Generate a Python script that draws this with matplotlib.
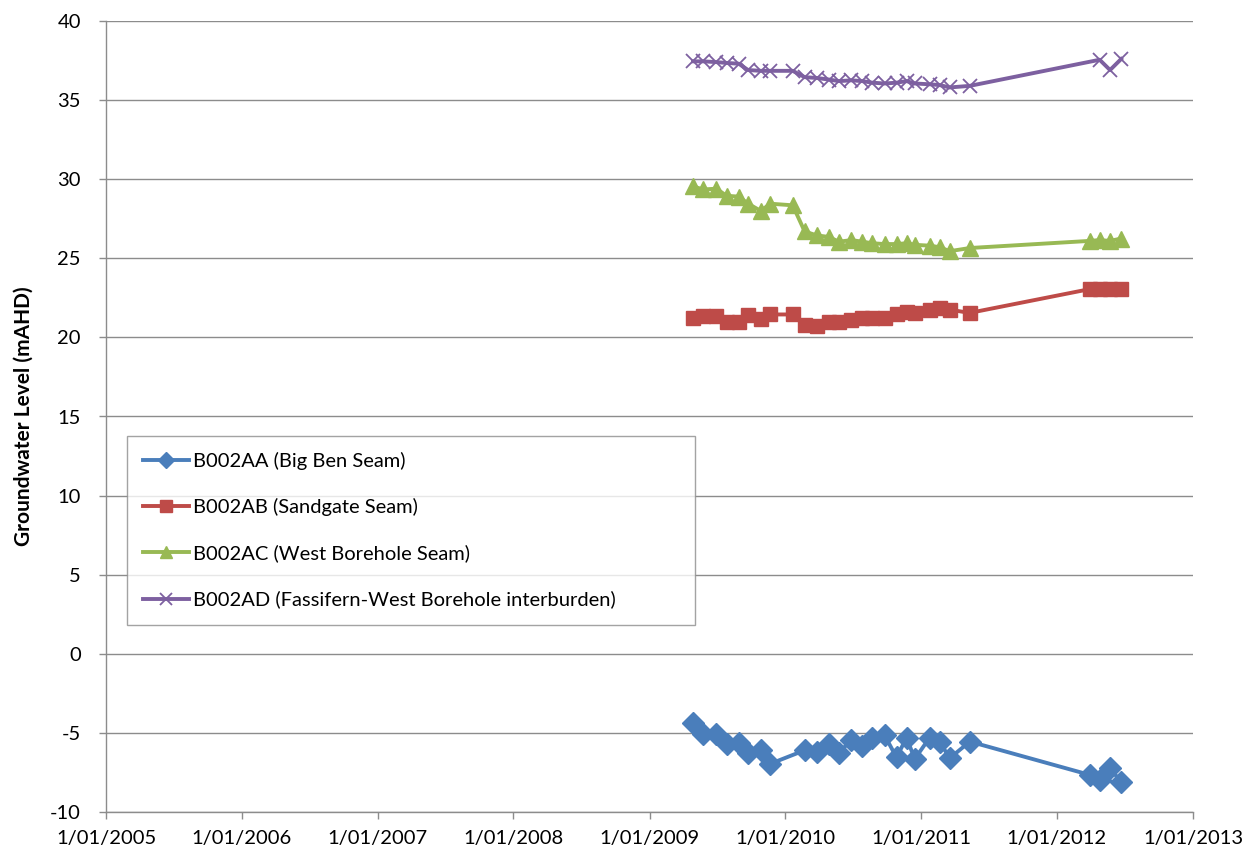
import matplotlib
matplotlib.use("Agg")
import matplotlib.pyplot as plt
import pandas as pd

# ---- data ----
dates_aa = ["2009-04-28","2009-05-25","2009-06-30","2009-07-27","2009-08-29","2009-09-23",
            "2009-10-27","2009-11-22","2010-02-22","2010-03-26","2010-04-28","2010-05-25",
            "2010-06-28","2010-07-27","2010-08-23","2010-09-25","2010-10-27","2010-11-23",
            "2010-12-15","2011-01-24","2011-02-20","2011-03-19","2011-05-12","2012-03-29",
            "2012-04-25","2012-05-23","2012-06-22"]
level_aa = [-4.35, -5.1, -5.05, -5.7, -5.65, -6.25, -6.1, -6.95, -6.1, -6.2, -5.7, -6.25,
            -5.45, -5.85, -5.35, -5.15, -6.55, -5.3, -6.65, -5.3, -5.55, -6.6, -5.55,
            -7.65, -8.0, -7.25, -8.1]

dates_ab = ["2009-04-28","2009-05-25","2009-06-30","2009-07-27","2009-08-29","2009-09-23",
            "2009-10-27","2009-11-22","2010-01-21","2010-02-22","2010-03-26","2010-04-28",
            "2010-05-25","2010-06-28","2010-07-27","2010-08-23","2010-09-25","2010-10-27",
            "2010-11-23","2010-12-15","2011-01-24","2011-02-20","2011-03-19","2011-05-12",
            "2012-03-29","2012-04-25","2012-05-23","2012-06-22"]
level_ab = [21.2, 21.35, 21.35, 20.95, 20.95, 21.4, 21.15, 21.45, 21.45, 20.8, 20.75, 20.95,
            20.95, 21.1, 21.2, 21.2, 21.2, 21.5, 21.6, 21.55, 21.75, 21.85, 21.75, 21.55,
            23.05, 23.05, 23.05, 23.05]

dates_ac = list(dates_ab)
level_ac = [29.55, 29.35, 29.4, 28.95, 28.9, 28.45, 28.0, 28.45, 28.35, 26.7, 26.45, 26.35,
            26.05, 26.15, 26.05, 25.95, 25.9, 25.9, 25.95, 25.85, 25.8, 25.7, 25.45, 25.65,
            26.1, 26.15, 26.1, 26.25]

dates_ad = ["2009-04-28","2009-05-25","2009-06-30","2009-07-27","2009-08-29","2009-09-23",
            "2009-10-27","2009-11-22","2010-01-21","2010-02-22","2010-03-26","2010-04-28",
            "2010-05-25","2010-06-28","2010-07-27","2010-08-23","2010-09-25","2010-10-27",
            "2010-11-23","2010-12-15","2011-01-24","2011-02-20","2011-03-19","2011-05-12",
            "2012-04-25","2012-05-23","2012-06-22"]
level_ad = [37.45, 37.45, 37.4, 37.35, 37.3, 36.9, 36.85, 36.85, 36.85, 36.45, 36.4, 36.3,
            36.2, 36.25, 36.2, 36.1, 36.05, 36.1, 36.2, 36.05, 36.0, 35.95, 35.8, 35.9,
            37.55, 36.9, 37.6]

labels = ["B002AA (Big Ben Seam)", "B002AB (Sandgate Seam)",
          "B002AC (West Borehole Seam)", "B002AD (Fassifern-West Borehole interburden)"]
x_ticks = ["2005-01-01","2006-01-01","2007-01-01","2008-01-01","2009-01-01",
           "2010-01-01","2011-01-01","2012-01-01","2013-01-01"]
y_ticks = [-10, -5, 0, 5, 10, 15, 20, 25, 30, 35, 40]

plt.rcParams['font.family'] = ['Lato', 'DejaVu Sans']

W, H = 1249, 856
fig = plt.figure(figsize=(W/100, H/100), dpi=100)
ax = fig.add_axes([106/W, 1-812/H, (1193-106)/W, (812-21)/H])

series = [
    (dates_aa, level_aa, "#4A7EBB", "D", 11, 1.0),
    (dates_ab, level_ab, "#BE4B48", "s", 10.5, 1.0),
    (dates_ac, level_ac, "#98B954", "^", 11, 1.0),
    (dates_ad, level_ad, "#7D60A0", "x", 10, 1.3),
]
for (d, v, c, m, ms, mew), lab in zip(series, labels):
    ax.plot(pd.to_datetime(d), v, color=c, lw=2.8, marker=m, ms=ms,
            markeredgewidth=mew, markerfacecolor=c, markeredgecolor=c, label=lab)

xt = pd.to_datetime(x_ticks)
ax.set_xlim(xt[0], xt[-1])
ax.set_xticks(xt)
ax.set_xticklabels([f"{t.day}/{t.month:02d}/{t.year}" for t in xt], fontsize=14.5)
ax.set_ylim(-10, 40)
ax.set_yticks(y_ticks)
ax.set_yticklabels([str(v) for v in y_ticks], fontsize=14.5)
ax.yaxis.grid(True, color="#8c8c8c", lw=1.0)
ax.set_axisbelow(True)
for s in ["top", "right"]:
    ax.spines[s].set_visible(False)
for s in ["left", "bottom"]:
    ax.spines[s].set_color("#8c8c8c")
    ax.spines[s].set_linewidth(1.0)
ax.tick_params(axis="both", color="#8c8c8c", length=5, width=1.0)
ax.tick_params(axis="y", pad=13)
ax.tick_params(axis="x", pad=8)
ax.set_ylabel("Groundwater Level (mAHD)", fontsize=15, fontweight="bold", labelpad=12)

# legend box in axes fraction: x 127..695, y 436..629 (pixels)
axw, axh = 1193-106, 812-21
bx0 = (127-106)/axw
by1 = (812-436)/axh
bw = (695-127)/axw
bh = (629-436)/axh
leg = ax.legend(loc="upper left", bbox_to_anchor=(bx0, by1-bh, bw, bh), mode="expand",
                fontsize=14.5, frameon=True, fancybox=False, borderpad=0.8,
                labelspacing=1.4, handlelength=2.3, handletextpad=0.2,
                borderaxespad=0)
leg.get_frame().set_edgecolor("#8c8c8c")
leg.get_frame().set_linewidth(1.0)
for h in leg.legend_handles:
    h.set_markersize(8.5)

fig.savefig("out.png", dpi=100)
